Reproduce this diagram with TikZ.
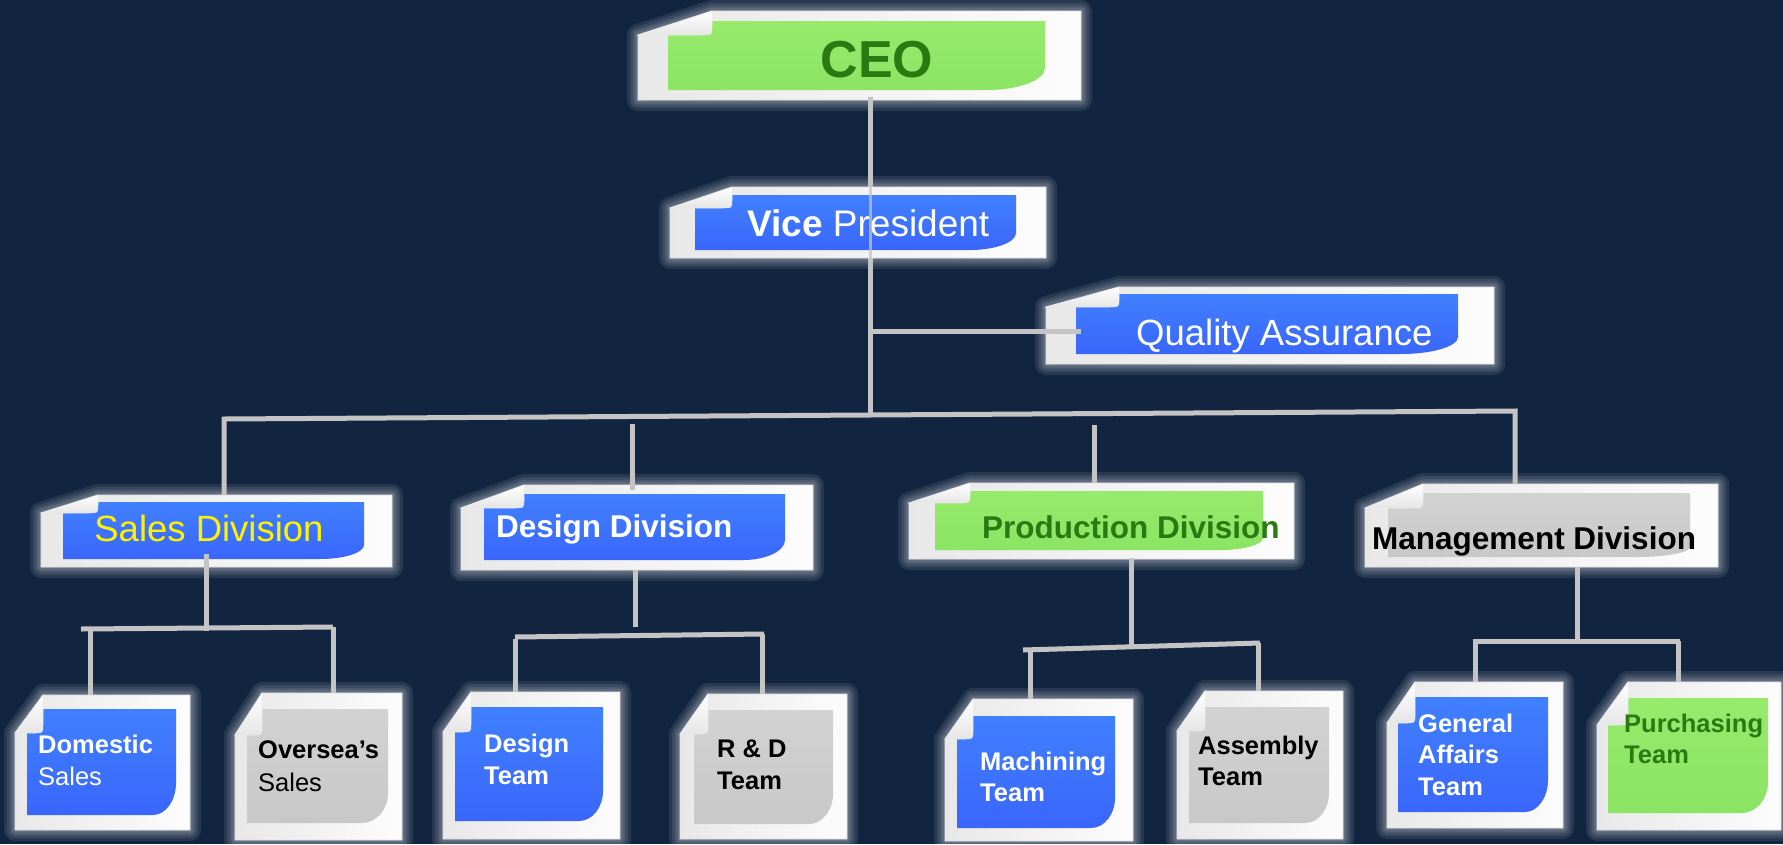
\documentclass[tikz,border=0pt]{standalone}
\usepackage{fontspec}
\setmainfont{Liberation Sans}
\definecolor{bg}{RGB}{18,37,64}
\definecolor{connc}{RGB}{196,196,196}
\definecolor{bluetop}{RGB}{64,128,255}
\definecolor{bluebot}{RGB}{58,102,250}
\definecolor{greentop}{RGB}{150,234,108}
\definecolor{greenbot}{RGB}{140,228,100}
\definecolor{graytop}{RGB}{210,210,210}
\definecolor{graybot}{RGB}{200,200,200}
\definecolor{dgreen}{RGB}{42,122,18}
\newcommand\fsz[1]{\fontsize{#1}{#1}\selectfont}
\tikzset{
  glow/.style={white, opacity=0.09, line join=round},
  paperfill/.style={left color=black!9, right color=black!1, draw=black!12, line width=0.8pt},
  bluefill/.style={top color=bluetop, bottom color=bluebot},
  greenfill/.style={top color=greentop, bottom color=greenbot},
  grayfill/.style={top color=graytop, bottom color=graybot},
  flapfill/.style={top color=white, bottom color=black!10, draw=black!8, line width=0.5pt},
  conn/.style={draw=connc, line width=5pt},
  thinconn/.style={draw=connc, line width=3pt, opacity=0.75},
  txt/.style={inner sep=0pt, anchor=base west},
  big/.style={font={\fsz{37}}},
  mid/.style={font={\bfseries\fsz{31.5}}},
  small/.style={font={\bfseries\fsz{25.5}}},
  smallr/.style={font={\fsz{25.5}}}
}
\newcommand\paper[7]{%
  \gdef\pa{#2}\gdef\pb{#3}\gdef\pc{#4}\gdef\pd{#5}\gdef\pfw{#6}\gdef\pfh{#7}%
  \foreach \w in {22,16,11,7,3}{\draw[glow, line width=\w pt] ({#2+#6},#3) -- (#4,#3) -- (#4,#5) -- (#2,#5) -- (#2,{#3+#7}) -- cycle;}%
  \path[paperfill] ({#2+#6},#3) -- (#4,#3) -- (#4,#5) -- (#2,#5) -- (#2,{#3+#7}) -- cycle;
  \coordinate (#1) at ({(#2+#4)/2},{(#3+#5)/2});
}
\newcommand\face[7]{%
  \begin{scope}
    \clip ({\pa+\pfw},\pb) -- (\pc,\pb) -- (\pc,\pd) -- (\pa,\pd) -- (\pa,{\pb+\pfh}) -- cycle;
    \shade[#7] (#1,#2) -- (#3,#2) -- (#3,{#4-#6}) .. controls (#3,{#4-0.45*#6}) and ({#3-0.45*#5},#4) .. ({#3-#5},#4) -- (#1,#4) -- cycle;
  \end{scope}
  \path[flapfill] (\pa,{\pb+\pfh}) -- ({\pa+\pfw},\pb) -- ({\pa+\pfw},{\pb+\pfh-8}) .. controls ({\pa+\pfw},{\pb+\pfh}) .. ({\pa+\pfw-10},{\pb+\pfh}) -- cycle;
}
\begin{document}
\begin{tikzpicture}[x=1pt,y=-1pt]
\useasboundingbox (0,0) rectangle (1783,844);
\fill[bg] (0,0) rectangle (1783,844);

% ---- top level
\paper{ceo}{638}{11}{1081}{100}{74}{24}
\face{668}{21}{1045}{90}{58}{22}{greenfill}
\node[inner sep=0pt, anchor=base, text=dgreen, font={\bfseries\fsz{52}}] (ceot) at (877,77) {CEO};

\paper{vp}{670}{187}{1046}{258}{62}{21}
\face{695}{195}{1016}{250}{46}{17}{bluefill}
\node[txt, big, text=white] (vpt) at (747,236) {\textbf{Vice} President};

\paper{qa}{1046}{287}{1494}{364}{73}{20}
\face{1076}{294}{1458}{354}{57}{17}{bluefill}
\node[txt, font={\fsz{36.5}}, text=white] (qat) at (1136,345) {Quality Assurance};

% ---- divisions
\paper{sales}{41}{495}{392}{567}{57}{18}
\face{63}{502}{364}{559}{44}{14}{bluefill}
\node[inner sep=0pt, anchor=base, font={\fsz{36.5}}, text=yellow] (salest) at (209,541) {Sales Division};

\paper{desd}{461}{485}{813}{570}{63}{23}
\face{484}{494}{785}{560}{42}{20}{bluefill}
\node[txt, mid, text=white] (desdt) at (496,537) {Design Division};

\paper{prod}{909}{483}{1294}{559}{61}{20}
\face{935}{491}{1263}{550}{43}{12}{greenfill}
\node[txt, mid, text=dgreen] (prodt) at (982,538) {Production Division};

\paper{mgmt}{1365}{484}{1718}{567}{58}{24}
\face{1388}{493}{1690}{557}{53}{10}{grayfill}
\node[txt, mid, text=black] (mgmtt) at (1372,549) {Management Division};

% ---- teams
\paper{dom}{15}{695}{190}{830}{28}{38}
\face{27}{709}{176}{815}{23}{32}{bluefill}
\node[txt, small, text=white] (dom1) at (38,753) {Domestic};
\node[txt, smallr, text=white] (dom2) at (38,785) {Sales};

\paper{ovs}{235}{693}{402}{840}{27}{42}
\face{247}{709}{388}{823}{26}{30}{grayfill}
\node[txt, small, text=black] (ovs1) at (258,758) {Oversea’s};
\node[txt, smallr, text=black] (ovs2) at (258,791) {Sales};

\paper{dteam}{443}{692}{620}{839}{28}{40}
\face{455}{707}{603}{821}{24}{30}{bluefill}
\node[txt, small, text=white] (dteam1) at (484,752) {Design};
\node[txt, small, text=white] (dteam2) at (484,784) {Team};

\paper{rd}{680}{694}{847}{839}{28}{40}
\face{694}{710}{833}{824}{24}{30}{grayfill}
\node[txt, small, text=black] (rd1) at (717,757) {R \& D};
\node[txt, small, text=black] (rd2) at (717,789) {Team};

\paper{mach}{945}{699}{1133}{841}{28}{40}
\face{957}{716}{1115}{828}{24}{30}{bluefill}
\node[txt, small, text=white] (mach1) at (980,770) {Machining};
\node[txt, small, text=white] (mach2) at (980,801) {Team};

\paper{asm}{1177}{691}{1343}{839}{28}{40}
\face{1189}{707}{1329}{823}{24}{30}{grayfill}
\node[txt, small, text=black] (asm1) at (1198,754) {Assembly};
\node[txt, small, text=black] (asm2) at (1198,785) {Team};

\paper{gen}{1387}{682}{1563}{828}{28}{41}
\face{1398}{697}{1548}{812}{23}{32}{bluefill}
\node[txt, small, text=white] (gen1) at (1418,732) {General};
\node[txt, small, text=white] (gen2) at (1418,763) {Affairs};
\node[txt, small, text=white] (gen3) at (1418,795) {Team};

\paper{pur}{1597}{682}{1781}{830}{31}{43}
\face{1608}{698}{1768}{813}{26}{31}{greenfill}
\node[txt, small, text=dgreen] (pur1) at (1624,732) {Purchasing};
\node[txt, small, text=dgreen] (pur2) at (1624,763) {Team};

% ---- connector points
\coordinate (ceo-b) at (870,97);
\coordinate (vp-t) at (870,187);
\coordinate (vp-b) at (870,258);
\coordinate (qa-j) at (870,331);
\coordinate (qa-l) at (1081,331);
\coordinate (bus-j) at (870,414);
\coordinate (bus-l) at (224,419);
\coordinate (bus-r) at (1515,411);
\coordinate (sales-t) at (224,495);
\coordinate (mgmt-t) at (1515,484);
\coordinate (desd-j) at (632,424);
\coordinate (desd-t) at (632,490);
\coordinate (prod-j) at (1094,425);
\coordinate (prod-t) at (1094,483);

\coordinate (sales-s) at (206,554);
\coordinate (sales-j) at (206,631);
\coordinate (sales-bl) at (81,629);
\coordinate (sales-br) at (333,627);
\coordinate (dom-j) at (90,631);
\coordinate (dom-t) at (90,695);
\coordinate (ovs-t) at (333,693);

\coordinate (desd-s) at (635,570);
\coordinate (desd-e) at (635,627);
\coordinate (desd-bl) at (515,637);
\coordinate (desd-br) at (764,634);
\coordinate (dteam-j) at (515,639);
\coordinate (dteam-t) at (515,692);
\coordinate (rd-j) at (762,634);
\coordinate (rd-t) at (762,694);

\coordinate (prod-s) at (1131,558);
\coordinate (prod-e) at (1131,646);
\coordinate (prod-bl) at (1023,650);
\coordinate (prod-br) at (1260,643);
\coordinate (mach-j) at (1030,652);
\coordinate (mach-t) at (1030,699);
\coordinate (asm-j) at (1258,643);
\coordinate (asm-t) at (1258,691);

\coordinate (mgmt-s) at (1577,567);
\coordinate (mgmt-e) at (1577,641);
\coordinate (mgmt-bl) at (1473,641);
\coordinate (mgmt-br) at (1680,641);
\coordinate (gen-j) at (1475,641);
\coordinate (gen-t) at (1475,682);
\coordinate (pur-j) at (1678,641);
\coordinate (pur-t) at (1678,682);

% ---- connectors
\draw[conn] (ceo-b) -- (vp-t);
\draw[thinconn] (vp-t) -- (vp-b);
\draw[conn] (vp-b) -- (bus-j);
\draw[conn] (qa-j) -- (qa-l);
\draw[conn, line join=miter] (sales-t) -- (bus-l) -- (bus-r) -- (mgmt-t);
\draw[conn] (desd-j) -- (desd-t);
\draw[conn] (prod-j) -- (prod-t);

\draw[conn] (sales-s) -- (sales-j);
\draw[conn] (sales-bl) -- (sales-br);
\draw[conn] (dom-j) -- (dom-t);
\draw[conn] (sales-br) -- (ovs-t);

\draw[conn] (desd-s) -- (desd-e);
\draw[conn] (desd-bl) -- (desd-br);
\draw[conn] (dteam-j) -- (dteam-t);
\draw[conn] (rd-j) -- (rd-t);

\draw[conn] (prod-s) -- (prod-e);
\draw[conn] (prod-bl) -- (prod-br);
\draw[conn] (mach-j) -- (mach-t);
\draw[conn] (asm-j) -- (asm-t);

\draw[conn] (mgmt-s) -- (mgmt-e);
\draw[conn] (mgmt-bl) -- (mgmt-br);
\draw[conn] (gen-j) -- (gen-t);
\draw[conn] (pur-j) -- (pur-t);
\end{tikzpicture}
\end{document}
